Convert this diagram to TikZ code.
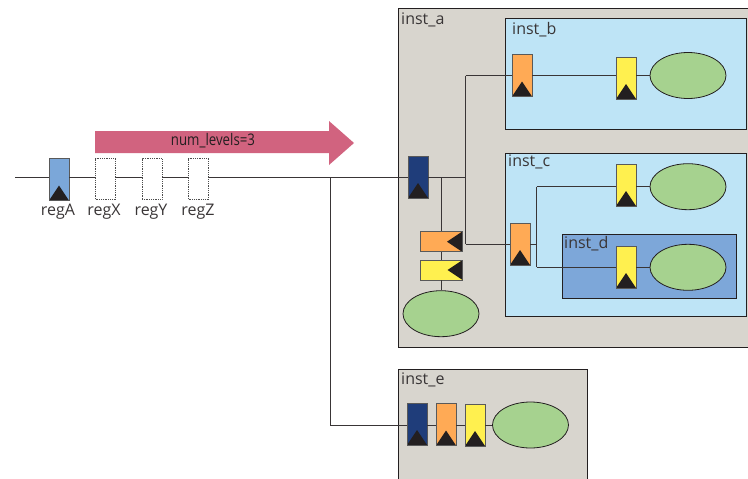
\documentclass[tikz,border=0pt]{standalone}
\usepackage{fontspec}
\setmainfont{Open Sans}
\usepackage{tikz}
\usetikzlibrary{shapes.geometric}
\definecolor{regblue}{HTML}{7BA7D9}
\definecolor{regnavy}{HTML}{1F3D7A}
\definecolor{regorange}{HTML}{FFAA55}
\definecolor{regyellow}{HTML}{FFF04F}
\definecolor{logicgreen}{HTML}{A6D28F}
\definecolor{instgrey}{HTML}{D8D5CE}
\definecolor{instsky}{HTML}{BEE4F6}
\definecolor{instblue}{HTML}{7DA7D9}
\definecolor{bandpink}{HTML}{D1637F}
\definecolor{inkdark}{HTML}{231F20}
\tikzset{
  % --- hierarchy boxes ---------------------------------------------------
  inst/.style    ={rectangle, draw=inkdark, line width=0.8pt, anchor=north west, inner sep=0},
  instlab/.style ={anchor=west, inner sep=0, font=\fontsize{16}{18}\selectfont, text=inkdark!90},
  % --- registers ---------------------------------------------------------
  regbase/.style ={rectangle, draw=black!65, line width=0.9pt, inner sep=0},
  reg/.style     ={regbase, minimum width=20pt, minimum height=42pt, path picture={
                   \fill[inkdark] (path picture bounding box.south west) --
                     ([yshift=15pt]path picture bounding box.south) --
                     (path picture bounding box.south east) -- cycle;}},
  regleft/.style ={regbase, minimum width=42pt, minimum height=20pt, path picture={
                   \fill[inkdark] (path picture bounding box.north east) --
                     ([xshift=-15pt]path picture bounding box.east) --
                     (path picture bounding box.south east) -- cycle;}},
  ghost/.style   ={rectangle, draw=black!70, densely dotted, line width=0.8pt, fill=white,
                   minimum width=20pt, minimum height=41pt, inner sep=0},
  logic/.style   ={ellipse, draw=inkdark, line width=0.8pt, fill=logicgreen,
                   minimum width=76pt, minimum height=46pt, inner sep=0},
  % --- wires and labels ----------------------------------------------------
  wire/.style    ={line width=0.8pt, draw=inkdark!90},
  lab/.style     ={inner sep=0, font=\fontsize{16}{18}\selectfont, text=inkdark!90},
  band/.style    ={fill=bandpink},
}
\begin{document}
\begin{tikzpicture}[x=1pt,y=-1pt]
  \useasboundingbox (0,0) rectangle (748,479);

  % ============================ hierarchy ============================
  \node[inst, fill=instgrey, minimum width=352pt, minimum height=339pt] (insta) at (398,8) {};
  \node[inst, fill=instsky, minimum width=241pt, minimum height=111pt] (instb) at (505,18) {};
  \node[inst, fill=instsky, minimum width=241pt, minimum height=163pt] (instc) at (505,153) {};
  \node[inst, fill=instblue, minimum width=174pt, minimum height=64pt] (instd) at (562,234) {};
  \node[inst, fill=instgrey, minimum width=189pt, minimum height=112pt] (inste) at (398,369) {};
  \node[instlab] (labela) at (401,20) {inst\_a};
  \node[instlab] (labelb) at (512,30) {inst\_b};
  \node[instlab] (labelc) at (508,162) {inst\_c};
  \node[instlab] (labeld) at (564,244) {inst\_d};
  \node[instlab] (labele) at (401,380) {inst\_e};

  % ============================ pipeline band ============================
  \path[band] (95,131) -- (329,131) -- (329,121) -- (354,143) -- (329,165)
    -- (329,153) -- (95,153) -- cycle;
  \node[inner sep=0, xscale=0.83, font=\fontsize{16}{18}\selectfont, text=inkdark] (levels) at (213,141)
    {num\_levels=3};

  % ============================ registers on the main wire ============================
  \node[reg, fill=regblue] (regA) at (59,179.5) {};
  \node[ghost] (regX) at (105.5,179) {};
  \node[ghost] (regY) at (152,179) {};
  \node[ghost] (regZ) at (198.5,179) {};
  \node[lab] (labA) at (58,212) {regA};
  \node[lab] (labX) at (104,212) {regX};
  \node[lab] (labY) at (151,212) {regY};
  \node[lab] (labZ) at (198,212) {regZ};

  % ============================ inst_a ============================
  \node[reg, fill=regnavy] (aclk) at (418,177) {};
  \node[regleft, fill=regorange] (aorg) at (441,241.7) {};
  \node[regleft, fill=regyellow] (ayel) at (441.5,270) {};
  \node[logic] (alog) at (441,313.7) {};

  % ============================ inst_b ============================
  \node[reg, fill=regorange] (borg) at (522,75.5) {};
  \node[reg, fill=regyellow] (byel) at (626,78) {};
  \node[logic] (blog) at (688,75.5) {};

  % ============================ inst_c, inst_d ============================
  \node[reg, fill=regorange] (corg) at (520,244) {};
  \node[reg, fill=regyellow] (cyel) at (626,185) {};
  \node[logic] (clog) at (688,186.7) {};
  \node[reg, fill=regyellow] (dyel) at (626,267) {};
  \node[logic] (dlog) at (688,267.3) {};

  % ============================ inst_e ============================
  \node[reg, fill=regnavy] (eclk) at (417,424) {};
  \node[reg, fill=regorange] (eorg) at (446,424.5) {};
  \node[reg, fill=regyellow] (eyel) at (475,425) {};
  \node[logic] (elog) at (530.5,425) {};

  % ============================ top level wires ============================
  \coordinate (wirein) at (15,177.5);
  \coordinate (split) at (330.5,177.5);
  \coordinate (ewire) at (330.5,425);
  \draw[wire] (wirein) -- (wirein -| regA.west);
  \draw[wire] (wirein -| regA.east) -- (wirein -| regX.west);
  \draw[wire] (wirein -| regX.east) -- (wirein -| regY.west);
  \draw[wire] (wirein -| regY.east) -- (wirein -| regZ.west);
  \draw[wire] (wirein -| regZ.east) -- (wirein -| aclk.west);
  \draw[wire] (split) -- (ewire) -- (eclk.west |- ewire);

  % ============================ wires in inst_a ============================
  \coordinate (rail) at (465.5,177.5);
  \coordinate (tap) at (441.5,177.5);
  \draw[wire] (wirein -| aclk.east) -- (rail);
  \draw[wire] (tap) -- (aorg.north -| tap);
  \draw[wire] (aorg.south -| tap) -- (ayel.north -| tap);
  \draw[wire] (ayel.south -| tap) -- (alog.north -| tap);
  \draw[wire] (rail |- blog) -- (rail |- corg);
  \draw[wire] (rail |- blog) -- (borg.west |- blog);
  \draw[wire] (rail |- corg) -- (corg.west);

  % ============================ wires in inst_b, inst_c, inst_d, inst_e ============================
  \draw[wire] (borg.east |- blog) -- (byel.west |- blog);
  \draw[wire] (byel.east |- blog) -- (blog.west);
  \coordinate (cfork) at (536.5,244);
  \draw[wire] (corg.east) -- (cfork);
  \draw[wire] (cfork |- clog) -- (cfork |- dlog);
  \draw[wire] (cfork |- clog) -- (cyel.west |- clog);
  \draw[wire] (cfork |- dlog) -- (dyel.west |- dlog);
  \draw[wire] (cyel.east |- clog) -- (clog.west);
  \draw[wire] (dyel.east |- dlog) -- (dlog.west);
  \draw[wire] (eclk.east |- elog) -- (eorg.west |- elog);
  \draw[wire] (eorg.east |- elog) -- (eyel.west |- elog);
  \draw[wire] (eyel.east |- elog) -- (elog.west);

\end{tikzpicture}
\end{document}
